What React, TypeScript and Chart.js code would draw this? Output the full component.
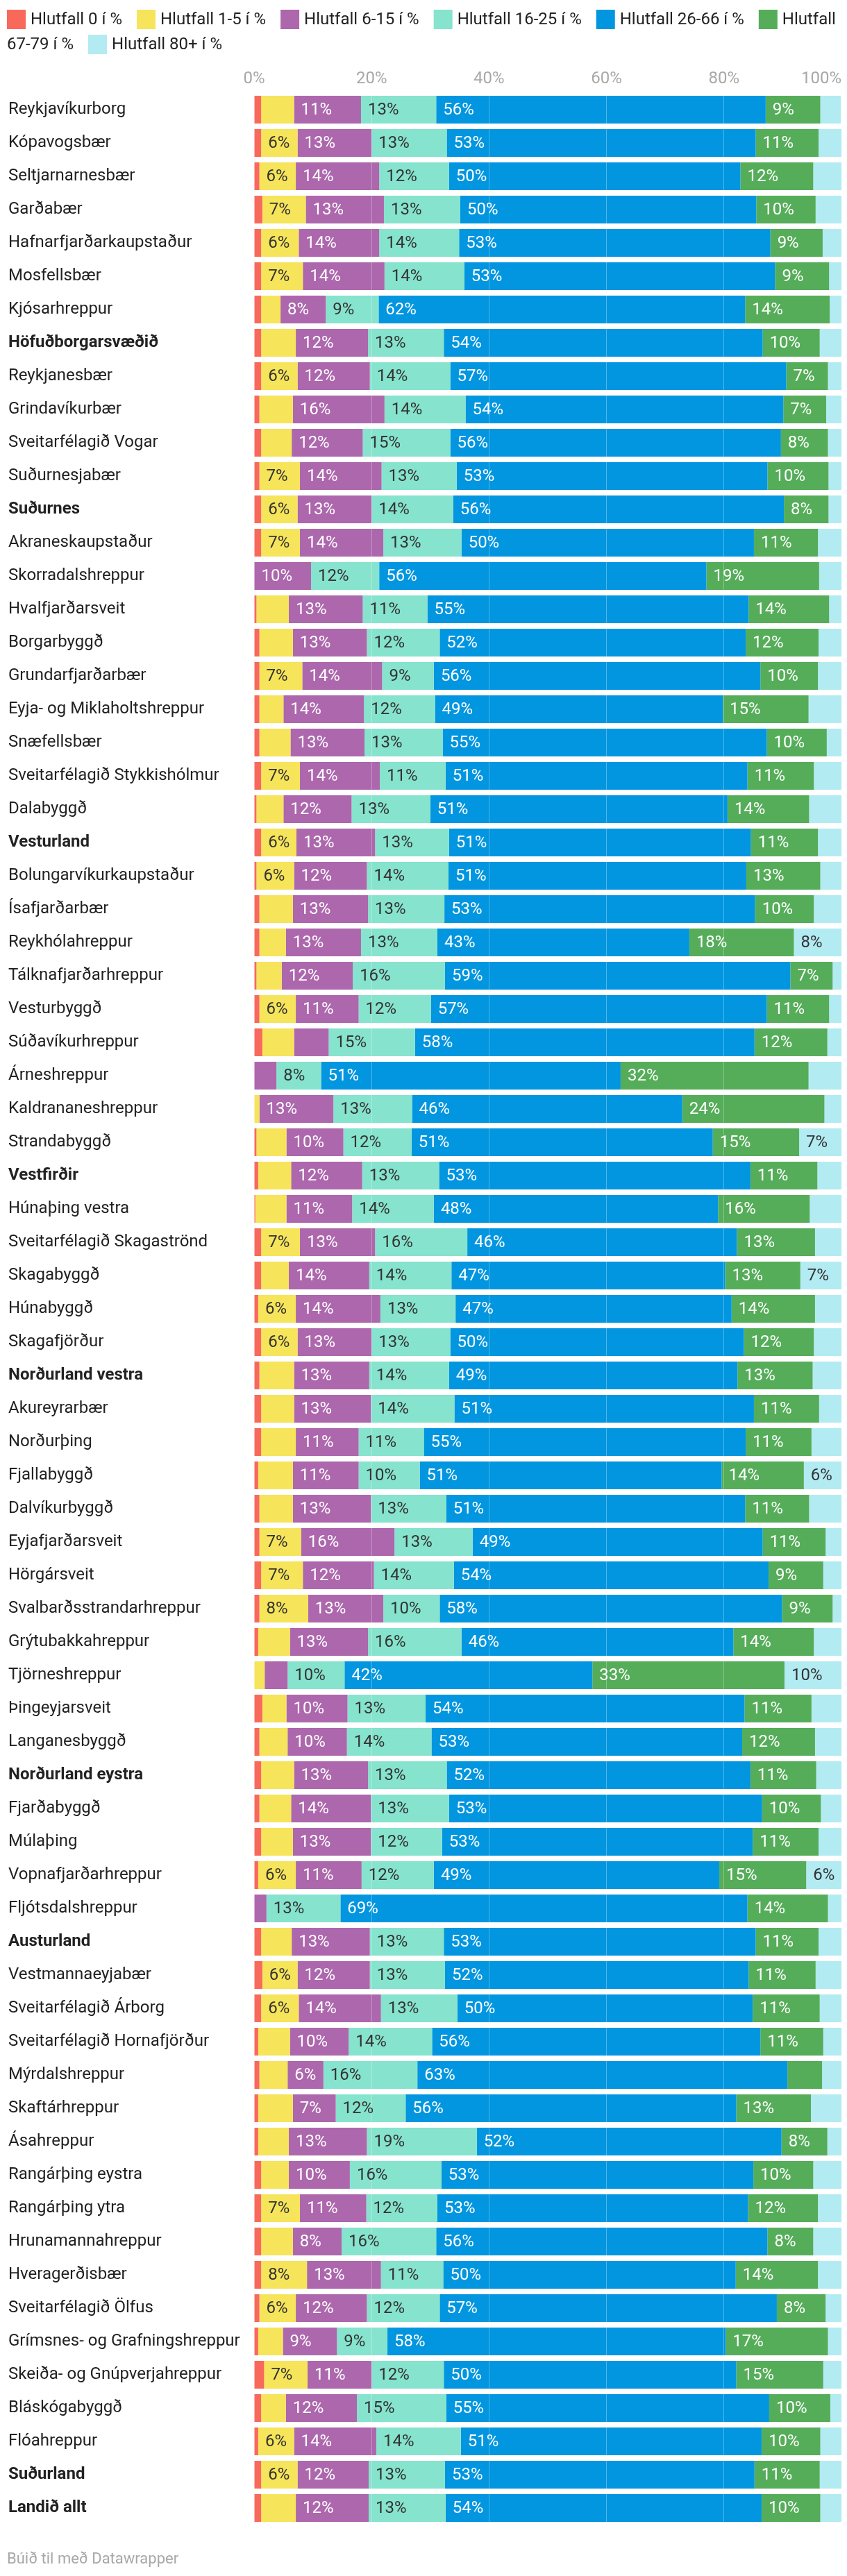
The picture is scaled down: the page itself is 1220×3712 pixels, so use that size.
import React, { useEffect, useRef } from 'react';
import { Chart, registerables } from 'chart.js';

Chart.register(...registerables);

const categories = [
  'Reykjavíkurborg', 'Kópavogsbær', 'Seltjarnarnesbær', 'Garðabær', 'Hafnarfjarðarkaupstaður', 'Mosfellsbær', 'Kjósarhreppur',
  'Höfuðborgarsvæðið', 'Reykjanesbær', 'Grindavíkurbær', 'Sveitarfélagið Vogar', 'Suðurnesjabær', 'Suðurnes',
  'Akraneskaupstaður', 'Skorradalshreppur', 'Hvalfjarðarsveit', 'Borgarbyggð', 'Grundarfjarðarbær', 'Eyja- og Miklaholtshreppur',
  'Snæfellsbær', 'Sveitarfélagið Stykkishólmur', 'Dalabyggð', 'Vesturland', 'Bolungarvíkurkaupstaður', 'Ísafjarðarbær',
  'Reykhólahreppur', 'Tálknafjarðarhreppur', 'Vesturbyggð', 'Súðavíkurhreppur', 'Árneshreppur', 'Kaldrananeshreppur',
  'Strandabyggð', 'Vestfirðir', 'Húnaþing vestra', 'Sveitarfélagið Skagaströnd', 'Skagabyggð', 'Húnabyggð', 'Skagafjörður',
  'Norðurland vestra', 'Akureyrarbær', 'Norðurþing', 'Fjallabyggð', 'Dalvíkurbyggð', 'Eyjafjarðarsveit', 'Hörgársveit',
  'Svalbarðsstrandarhreppur', 'Grýtubakkahreppur', 'Tjörneshreppur', 'Þingeyjarsveit', 'Langanesbyggð', 'Norðurland eystra',
  'Fjarðabyggð', 'Múlaþing', 'Vopnafjarðarhreppur', 'Fljótsdalshreppur', 'Austurland', 'Vestmannaeyjabær',
  'Sveitarfélagið Árborg', 'Sveitarfélagið Hornafjörður', 'Mýrdalshreppur', 'Skaftárhreppur', 'Ásahreppur',
  'Rangárþing eystra', 'Rangárþing ytra', 'Hrunamannahreppur', 'Hveragerðisbær', 'Sveitarfélagið Ölfus',
  'Grímsnes- og Grafningshreppur', 'Skeiða- og Gnúpverjahreppur', 'Bláskógabyggð', 'Flóahreppur', 'Suðurland', 'Landið allt',
];

const boldCategories = [
  'Höfuðborgarsvæðið', 'Suðurnes', 'Vesturland', 'Vestfirðir', 'Norðurland vestra', 'Norðurland eystra',
  'Austurland', 'Suðurland', 'Landið allt',
];

const seriesNames = [
  'Hlutfall 0 í %', 'Hlutfall 1-5 í %', 'Hlutfall 6-15 í %', 'Hlutfall 16-25 í %',
  'Hlutfall 26-66 í %', 'Hlutfall 67-79 í %', 'Hlutfall 80+ í %',
];

const seriesColors = ['#f8695c', '#f6e45a', '#ad67ad', '#86e3cd', '#0296e0', '#55ad59', '#b3ebf3'];
const labelColors = ['#333333', '#333333', '#ffffff', '#333333', '#ffffff', '#ffffff', '#333333'];

const share0 = [
  1.2, 1.2, 0.9, 1.4, 1.2, 1.2, 1.2, 1.2, 1.2, 0.9, 1.2, 0.9, 1.2, 1.2, 0, 0.4, 0.9, 0.9, 0.9, 0.9,
  1.2, 0.4, 1.2, 0.4, 0.9, 0.9, 0.4, 0.9, 1.4, 0, 0, 0.4, 0.7, 0.2, 1.2, 1.2, 0.7, 1.2, 0.9, 1.2,
  1.2, 0.7, 0.9, 0.9, 1.2, 0.9, 0.7, 0, 1.4, 0.9, 1.2, 0.9, 1.2, 0.7, 0, 1.2, 1.4, 1.2, 0.7, 0.9,
  0.7, 0.7, 1.2, 1.2, 1.2, 1.2, 0.9, 0.7, 1.7, 1.2, 0.7, 1.2, 1.2,
];
const share1to5 = [
  5.6, 6.2, 6.2, 7.4, 6.4, 7.1, 3.3, 5.9, 6.2, 5.7, 5.2, 6.9, 6.2, 6.6, 0, 5.5, 5.7, 7.3, 4.1, 5.3,
  6.6, 4.6, 6.0, 6.4, 5.7, 4.5, 4.3, 6.2, 5.4, 0, 0.9, 5.1, 5.6, 5.3, 6.6, 4.7, 6.4, 6.2, 5.9, 5.6,
  5.9, 5.9, 5.7, 7.1, 7.1, 8.3, 5.4, 1.8, 4.1, 4.8, 5.6, 5.4, 5.4, 6.4, 0, 5.2, 6.0, 6.4, 5.4, 4.8,
  5.9, 5.2, 4.7, 6.6, 5.4, 7.8, 6.2, 4.2, 7.4, 4.2, 6.1, 6.2, 5.9,
];
const share6to15 = [
  11.4, 12.6, 14.2, 13.3, 13.7, 13.9, 7.7, 12.3, 12.3, 15.6, 12.1, 13.9, 12.6, 14.2, 9.7, 12.6, 12.6, 13.6, 13.7, 12.6,
  13.6, 11.6, 13.4, 12.4, 12.8, 12.8, 12.1, 10.7, 5.9, 3.8, 12.6, 9.7, 12.1, 11.2, 12.8, 13.7, 14.4, 12.6, 12.8, 13.1,
  10.7, 11.2, 13.3, 15.9, 12.1, 12.8, 13.3, 3.9, 10.4, 10.1, 12.6, 13.6, 13.3, 11.2, 2.1, 13.3, 12.3, 14.0, 10.0, 6.1,
  7.3, 13.3, 10.4, 11.3, 8.3, 12.6, 12.1, 9.2, 10.9, 12.1, 14.0, 12.1, 12.4,
];
const share16to25 = [
  12.8, 12.8, 11.9, 13.0, 13.6, 13.6, 9.0, 12.9, 13.7, 13.8, 14.9, 12.8, 13.9, 13.3, 11.6, 11.0, 12.4, 8.8, 12.1, 13.3,
  11.2, 13.4, 12.6, 13.9, 13.0, 13.0, 15.7, 12.3, 14.7, 7.6, 13.4, 11.6, 13.1, 13.9, 15.7, 14.0, 12.8, 13.4, 13.6, 14.2,
  11.1, 10.4, 12.8, 13.3, 13.6, 9.6, 15.9, 9.7, 13.3, 14.4, 13.4, 13.3, 12.1, 12.3, 12.6, 12.6, 12.8, 13.0, 14.2, 16.0,
  11.9, 18.7, 15.6, 12.1, 16.1, 10.6, 12.4, 8.6, 12.3, 15.2, 14.4, 13.0, 13.1,
];
const share26to66 = [
  56.1, 52.6, 49.6, 50.4, 53.0, 52.9, 62.4, 54.3, 57.2, 54.1, 56.3, 52.9, 56.3, 49.8, 55.7, 54.7, 52.1, 55.6, 49.0, 55.2,
  51.4, 50.6, 51.4, 50.7, 52.9, 42.9, 58.8, 57.2, 57.8, 51.0, 46.0, 51.3, 53.0, 48.4, 45.9, 46.6, 47.0, 50.0, 49.1, 51.0,
  54.8, 51.4, 50.9, 49.4, 53.6, 58.3, 46.3, 42.2, 54.3, 52.9, 51.7, 53.3, 52.9, 48.6, 69.3, 53.1, 51.7, 50.3, 55.9, 63.0,
  56.3, 51.9, 53.1, 52.9, 56.4, 49.8, 57.4, 57.6, 49.8, 55.0, 51.2, 52.7, 53.8,
];
const share67to79 = [
  9.3, 10.7, 12.4, 10.1, 8.9, 9.2, 14.4, 9.7, 7.1, 7.3, 8.0, 10.4, 7.6, 10.9, 19.2, 13.7, 12.4, 9.8, 14.6, 10.2,
  11.3, 13.9, 11.4, 12.6, 10.0, 17.8, 7.2, 10.6, 12.4, 32.0, 24.2, 14.7, 11.4, 15.6, 13.3, 12.8, 14.2, 11.9, 12.8, 11.1,
  11.2, 14.0, 10.9, 10.7, 9.3, 8.6, 13.7, 32.7, 11.4, 12.4, 11.2, 10.0, 11.2, 14.8, 13.7, 10.7, 11.4, 11.4, 10.7, 5.9,
  12.7, 7.8, 10.2, 11.9, 7.8, 14.0, 8.3, 17.4, 14.8, 10.4, 10.0, 11.1, 10.0,
];
const share80plus = [
  3.5, 3.9, 4.8, 4.4, 3.2, 2.1, 2.0, 3.7, 2.3, 2.6, 2.3, 2.2, 2.2, 4.0, 3.8, 2.1, 3.9, 4.0, 5.6, 2.5,
  4.7, 5.5, 4.0, 3.6, 4.7, 8.1, 1.5, 2.1, 2.4, 5.6, 2.9, 7.2, 4.1, 5.4, 4.5, 7.0, 4.5, 4.7, 4.9, 3.8,
  5.1, 6.4, 5.5, 2.7, 3.1, 1.5, 4.7, 9.7, 5.1, 4.5, 4.3, 3.5, 3.9, 6.0, 2.3, 3.9, 4.4, 3.7, 3.1, 3.3,
  5.2, 2.4, 4.8, 4.0, 4.8, 4.0, 2.7, 2.3, 3.1, 1.9, 3.6, 3.7, 3.6,
];

const seriesValues = [share0, share1to5, share6to15, share16to25, share26to66, share67to79, share80plus];

const axisTicks = [0, 20, 40, 60, 80, 100];
const footerText = 'Búið til með Datawrapper';

const FONT = 'Roboto, "Noto Sans", sans-serif';
const W = 1204;
const H = 3696;

const overlayPlugin = {
  id: 'dwOverlay',
  afterDraw(chart: any) {
    const ctx = chart.ctx;
    ctx.save();
    ctx.textBaseline = 'middle';

    // value labels inside segments
    ctx.font = `400 24px ${FONT}`;
    ctx.textAlign = 'left';
    chart.data.datasets.forEach((ds: any, di: number) => {
      const meta = chart.getDatasetMeta(di);
      meta.data.forEach((el: any, i: number) => {
        const v = ds.data[i];
        if (v < 6) return;
        const p = el.getProps(['x', 'y', 'base'], true);
        ctx.fillStyle = labelColors[di];
        ctx.fillText(Math.round(v) + '%', Math.min(p.x, p.base) + 10, p.y + 1);
      });
    });

    // axis tick labels on top
    const xs = chart.scales.x;
    ctx.font = `400 24px ${FONT}`;
    ctx.fillStyle = '#a8a8a8';
    axisTicks.forEach((t, i) => {
      const px = xs.getPixelForValue(t);
      ctx.textAlign = i === axisTicks.length - 1 ? 'right' : 'center';
      ctx.fillText(t + '%', px, 106);
    });

    // legend
    ctx.font = `400 24px ${FONT}`;
    ctx.textAlign = 'left';
    let lx = 2;
    let ly = 20;
    const spaceW = ctx.measureText(' ').width;
    seriesNames.forEach((name, i) => {
      if (lx + 27 > W) { lx = 2; ly += 36; }
      ctx.fillStyle = seriesColors[i];
      ctx.fillRect(lx, ly - 14, 27, 28);
      lx += 34;
      ctx.fillStyle = '#222222';
      name.split(' ').forEach((word, wi) => {
        const ww = ctx.measureText(word).width;
        if (wi > 0) {
          if (lx + spaceW + ww > W) { lx = 2; ly += 36; }
          else lx += spaceW;
        }
        ctx.fillText(word, lx, ly + 1);
        lx += ww;
      });
      lx += 21;
    });

    // footer
    ctx.font = `400 22px ${FONT}`;
    ctx.fillStyle = '#a8a8a8';
    ctx.textAlign = 'left';
    ctx.fillText(footerText, 2, 3680);
    ctx.restore();
  },
};

export default function App() {
  const ref = useRef<HTMLCanvasElement | null>(null);
  useEffect(() => {
    if (!ref.current) return;
    const chart = new Chart(ref.current, {
      type: 'bar',
      data: {
        labels: categories,
        datasets: seriesNames.map((name, i) => ({
          label: name,
          data: seriesValues[i],
          backgroundColor: seriesColors[i],
          borderWidth: 0,
          barPercentage: 40 / 48,
          categoryPercentage: 1,
        })),
      },
      options: {
        indexAxis: 'y',
        responsive: false,
        animation: false,
        layout: { padding: { left: 4, right: 0, top: 126, bottom: 66 } },
        plugins: { legend: { display: false }, tooltip: { enabled: false } },
        scales: {
          x: {
            position: 'top',
            stacked: true,
            min: 0,
            max: 100,
            ticks: { display: false, stepSize: 20 },
            border: { display: false },
            grid: {
              z: 1,
              drawTicks: false,
              lineWidth: 1,
              color: (c: any) => (c.tick && (c.tick.value === 0 || c.tick.value === 100)) ? 'rgba(0,0,0,0)' : 'rgba(255,255,255,0.3)',
            },
          },
          y: {
            stacked: true,
            border: { display: false },
            grid: { display: false, drawTicks: false },
            afterFit: (scale: any) => { scale.width = 354; },
            ticks: {
              crossAlign: 'far',
              autoSkip: false,
              padding: 0,
              color: '#222222',
              font: (c: any) => ({
                family: FONT,
                size: 24,
                weight: boldCategories.includes(categories[c.index]) ? 'bold' : 'normal',
              }),
            },
          },
        },
      },
      plugins: [overlayPlugin],
    } as any);
    return () => chart.destroy();
  }, []);
  return (
    <canvas ref={ref} width={W} height={H} style={{ display: 'block', width: W + 'px', height: H + 'px' }} />
  );
}
